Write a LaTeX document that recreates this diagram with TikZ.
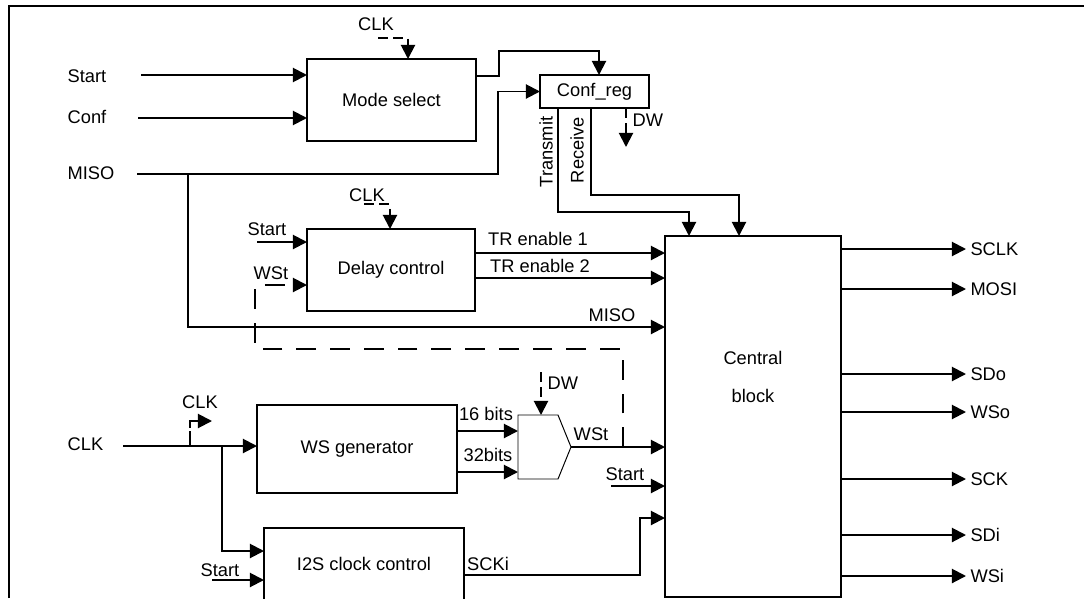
\documentclass[tikz,border=0pt]{standalone}
\usepackage{fontspec}
\setmainfont{Liberation Sans}
\usetikzlibrary{arrows.meta}

\begin{document}
\begin{tikzpicture}[x=0.025cm, y=-0.025cm,
    font=\fontsize{13}{15}\selectfont,
    plain/.style={line width=1.4pt},
    wire/.style={line width=1.4pt, -{Triangle[length=10pt,width=10pt]}},
    clkwire/.style={wire, dash pattern=on 7pt off 4pt},
    dwire/.style={wire, dash pattern=on 14pt off 10pt},
    block/.style 2 args={draw, line width=1.4pt, inner sep=0pt, outer sep=0pt,
        minimum width=#1*0.025cm, minimum height=#2*0.025cm},
    lbl/.style={inner sep=1pt},
    outlbl/.style={inner sep=3pt, anchor=west}]
        \useasboundingbox (0,0) rectangle (1084,598);
        % Frame %
        \draw[plain] (9,598) -- (9,6) -- (1084,6);
        % Blocks %
        \node[block={169}{82}] (mode) at (391.5,100) {Mode select};
        \node[block={109}{33}] (confreg) at (594.5,91.5) {Conf\_reg};
        \node[block={168}{82}] (delay) at (391,270) {Delay control};
        \node[block={200}{88}] (wsgen) at (357,449) {WS generator};
        \node[block={200}{72}] (i2s) at (364,564) {I2S clock control};
        \node[block={176}{361}] (central) at (753,416.5) {};
        \node[align=center, inner sep=0pt] (centraltxt) at (753,377) {Central\\[12pt]block};
        \draw[line width=0.7pt] (518,415) -- (558,415) -- (571,447) -- (558,479) -- (518,479) -- cycle;
        \coordinate (muxout) at (571,447);
        % Mode select inputs %
        \node[lbl, anchor=west] (start1) at (66,76) {Start};
        \node[lbl, anchor=west] (conf) at (66,117) {Conf};
        \node[lbl, anchor=west] (miso) at (66,173) {MISO};
        \node[lbl] (clkm) at (376,24) {CLK};
        \draw[wire] (141,75) -- (mode.west |- 0,75);
        \draw[wire] (138,118) -- (mode.west |- 0,118);
        \draw[clkwire] (378,38) -| (mode.north -| 408,0);
        \draw[wire] (mode.east |- 0,76) -- (499,76) |- (599,51) -- (confreg.north -| 599,0);
        \draw[wire] (137,174) -- (498,174) |- (confreg.west);
        % Conf_reg outputs %
        \node[lbl, anchor=west] (dw1) at (631,120) {DW};
        \draw[clkwire] (confreg.south -| 626,0) -- (626,147);
        \node[lbl, rotate=90] (tx) at (546,152) {Transmit};
        \node[lbl, rotate=90] (rx) at (577,150) {Receive};
        \draw[wire] (confreg.south -| 558,0) |- (689,212) -- (central.north -| 689,0);
        \draw[wire] (confreg.south -| 591,0) |- (739,195) -- (central.north -| 739,0);
        % Delay control %
        \node[lbl] (clkd) at (367,195) {CLK};
        \draw[clkwire] (364,204) -| (delay.north -| 390,0);
        \node[lbl] (start2) at (267,229) {Start};
        \draw[wire] (257,242) -- (delay.west |- 0,242);
        \node[lbl] (wst1) at (271,273) {WSt};
        \draw[dwire] (623,447) -- (623,349) -| (255,285) -- (delay.west |- 0,285);
        \draw[wire] (188,174) |- (central.west |- 0,327);
        \node[lbl] (miso2) at (612,315) {MISO};
        \node[lbl] (tr1) at (538,239) {TR enable 1};
        \node[lbl] (tr2) at (540,266) {TR enable 2};
        \draw[wire] (delay.east |- 0,253) -- (central.west |- 0,253);
        \draw[wire] (delay.east |- 0,278) -- (central.west |- 0,278);
        % WS generator and I2S clock %
        \node[lbl, anchor=west] (clkin) at (66,444) {CLK};
        \node[lbl] (clkw) at (200,402) {CLK};
        \draw[wire] (123,446) -- (wsgen.west |- 0,446);
        \draw[wire, dash pattern=on 11pt off 2pt] (190,446) |- (212,421);
        \draw[wire] (222,446) |- (i2s.west |- 0,551);
        \node[lbl] (start3) at (220,570) {Start};
        \draw[wire] (212,580) -- (i2s.west |- 0,580);
        \node[lbl] (b16) at (486,414) {16 bits};
        \node[lbl] (b32) at (488,455) {32bits};
        \draw[wire] (wsgen.east |- 0,431) -- (518,431);
        \draw[wire] (wsgen.east |- 0,472) -- (518,472);
        \node[lbl, anchor=west] (dw2) at (546,383) {DW};
        \draw[clkwire] (541,372) -- (541,415);
        \node[lbl] (wst2) at (591,434) {WSt};
        \draw[wire] (muxout) -- (central.west |- muxout);
        \node[lbl] (start4) at (625,474) {Start};
        \draw[wire] (611,486) -- (central.west |- 0,486);
        \node[lbl] (scki) at (488,564) {SCKi};
        \draw[wire] (i2s.east |- 0,575) -| (640,518) -- (central.west |- 0,518);
        % Outputs %
        \node[outlbl] (sclk) at (966,249) {SCLK};
        \node[outlbl] (mosi) at (966,289) {MOSI};
        \node[outlbl] (sdo) at (966,374) {SDo};
        \node[outlbl] (wso) at (966,412) {WSo};
        \node[outlbl] (sck) at (966,479) {SCK};
        \node[outlbl] (sdi) at (966,535) {SDi};
        \node[outlbl] (wsi) at (966,576) {WSi};
        \draw[wire] (central.east |- sclk) -- (sclk.west);
        \draw[wire] (central.east |- mosi) -- (mosi.west);
        \draw[wire] (central.east |- sdo) -- (sdo.west);
        \draw[wire] (central.east |- wso) -- (wso.west);
        \draw[wire] (central.east |- sck) -- (sck.west);
        \draw[wire] (central.east |- sdi) -- (sdi.west);
        \draw[wire] (central.east |- wsi) -- (wsi.west);

      \end{tikzpicture}
\end{document}
